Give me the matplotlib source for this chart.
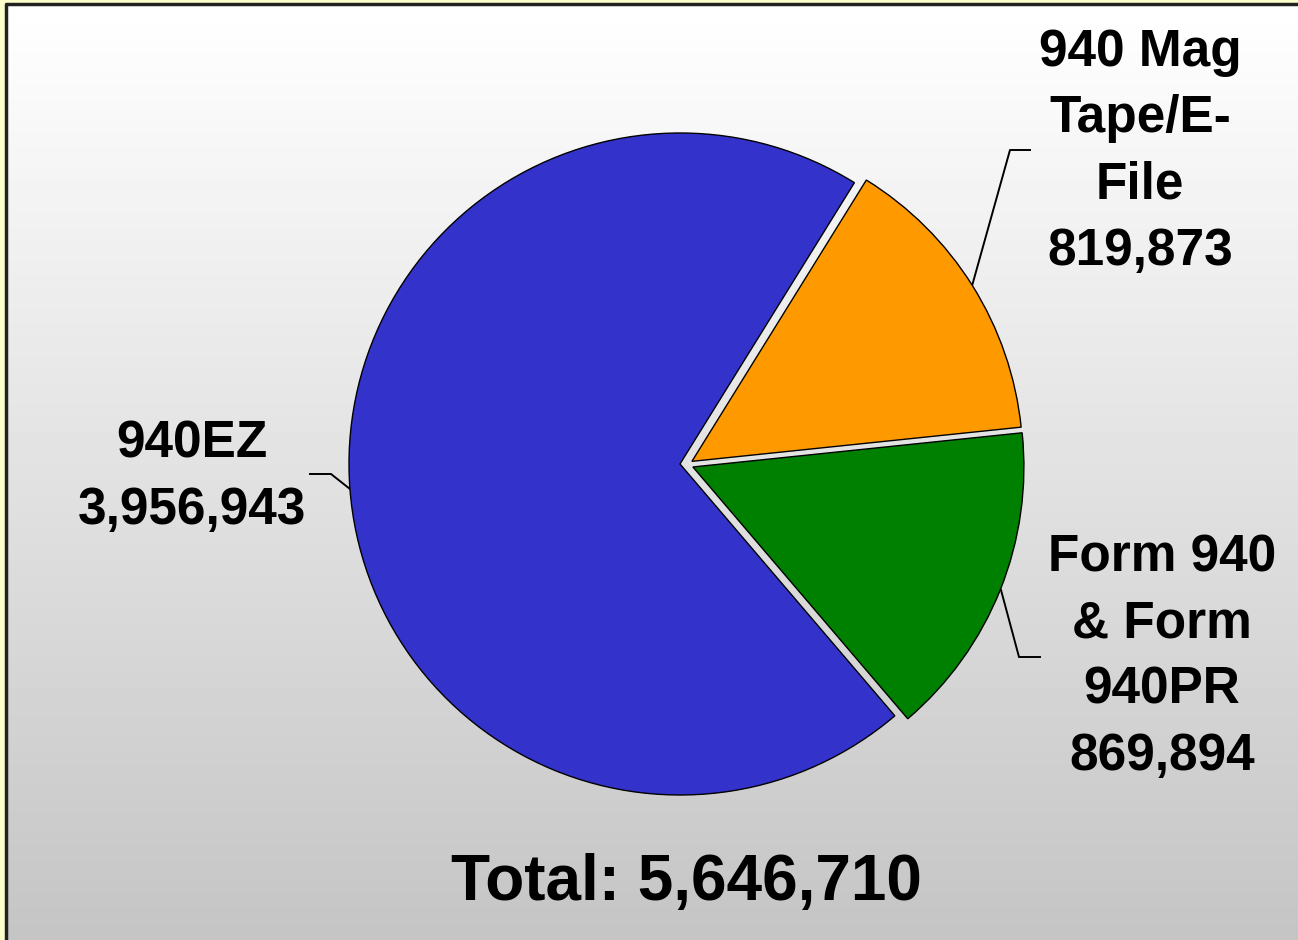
import numpy as np
import matplotlib.pyplot as plt

# data
labels = ["940 Mag\nTape/E-\nFile", "Form 940\n& Form\n940PR", "940EZ"]
values = [819873, 869894, 3956943]
colors = ["#ff9900", "#008000", "#3333cc"]
total = sum(values)

W, H = 1298, 940
fig = plt.figure(figsize=(W / 100, H / 100), dpi=100, facecolor="#ffffcc")
plt.rcParams["font.family"] = ["Liberation Sans", "DejaVu Sans"]

# background axes in pixel coordinates
bg = fig.add_axes([0, 0, 1, 1])
bg.set_xlim(0, W)
bg.set_ylim(H, 0)
bg.axis("off")
grad = np.linspace(1.0, 0.77, 256).reshape(-1, 1)
bg.imshow(grad, cmap="gray", vmin=0, vmax=1, extent=[7, W, H, 5],
          aspect="auto", zorder=0)
bg.plot([6, 6, W], [H, 4, 4], color="#222222", lw=2.5, zorder=1,
        solid_capstyle="butt")

# pie axes: centre (680, 464) px, radius 331 px
cx, cy, R = 680, 464, 331
half = 1.2 * R
ax = fig.add_axes([(cx - half) / W, (H - cy - half) / H, 2 * half / W, 2 * half / H])
wedges, _ = ax.pie(values, colors=colors, startangle=58.2, counterclock=False,
                   radius=1, wedgeprops=dict(edgecolor="black", linewidth=1.0))
ax.set_xlim(-1.2, 1.2)
ax.set_ylim(-1.2, 1.2)
ax.axis("off")
# slices pulled out mostly sideways, as in the original
wedges[0].set_center((0.036, 0.008))
wedges[1].set_center((0.039, -0.009))
for w in wedges:
    w.set_clip_on(False)

# leader lines
lk = dict(color="black", lw=1.4)
bg.plot([1030, 1010, 972], [150, 150, 286], **lk)
bg.plot([310, 331, 350], [474, 474, 489], **lk)
bg.plot([1040, 1019, 1001], [657, 657, 590], **lk)

fmt = lambda v: f"{v:,}"
tk = dict(fontsize=37, fontweight="bold", ha="center", va="center",
          multialignment="center", linespacing=1.45)
bg.text(1140, 152, labels[0] + "\n" + fmt(values[0]), **tk)
bg.text(1162, 657, labels[1] + "\n" + fmt(values[1]), **tk)
bg.text(192, 477, labels[2] + "\n" + fmt(values[2]), **tk)
bg.text(686, 883, "Total: " + fmt(total), fontsize=46, fontweight="bold",
        ha="center", va="center")

fig.savefig("out.png", dpi=100, facecolor=fig.get_facecolor())
